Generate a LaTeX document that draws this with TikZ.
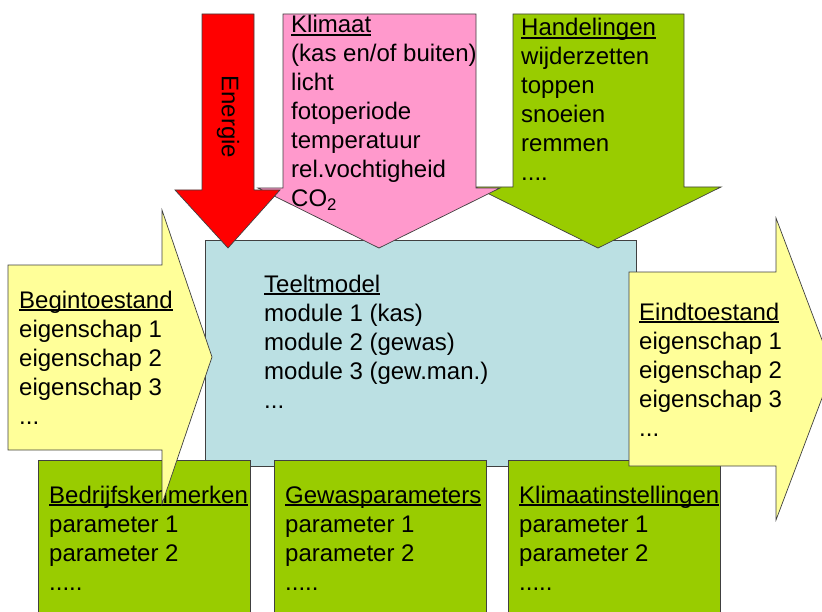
\documentclass[tikz,border=0pt]{standalone}
\usepackage{fontspec}
\setmainfont{Liberation Sans}
\usepackage{xcolor}
\definecolor{energy}{HTML}{FF0000}
\definecolor{climate}{HTML}{FF99CC}
\definecolor{action}{HTML}{99CC00}
\definecolor{state}{HTML}{FFFF99}
\definecolor{model}{HTML}{BBE0E3}
\usepackage{tikz}
\usetikzlibrary{positioning, calc}

% heading with a rule just under the baseline
\newcommand{\headline}[1]{\setbox0\hbox{#1}\rlap{\rule[-3bp]{\wd0}{1.6bp}}\box0}

\begin{document}
\begin{tikzpicture}[x=1bp, y=-1bp,
    panel/.style={draw=black!75, line width=0.7bp},
    txt/.style={anchor=base west, inner sep=0pt, font=\fontsize{24bp}{29bp}\selectfont}]
  \clip (0,0) rectangle (822,612);

  % teeltmodel
  \fill[model, panel] (205,240) rectangle (636,466);
  \node[txt] (model0) at (264,292) {\headline{Teeltmodel}};
  \foreach \t [count=\i] in {module 1 (kas), module 2 (gewas), module 3 (gew.man.)}
    \node[txt] (model\i) at (264,{292+29*\i}) {\t};
  \node[txt] (model4) at (264,408) {.{}.{}.};

  % handelingen
  \fill[action, panel] (513,14) -- (684,14) -- (684,187) -- (721,187) -- (598,248)
    -- (475,187) -- (513,187) -- cycle;
  \node[txt] (hand0) at (521,36) {\headline{Handelingen}};
  \foreach \t [count=\i] in {wijderzetten, toppen, snoeien, remmen}
    \node[txt] (hand\i) at (521,{36+29*\i}) {\t};
  \node[txt] (hand5) at (521,181) {.{}.{}.{}.};

  % klimaat
  \fill[climate, panel] (283,14) -- (476,14) -- (476,188) -- (500,188) -- (379,248)
    -- (258,188) -- (283,188) -- cycle;
  \node[txt] (klim0) at (291,33) {\headline{Klimaat}};
  \foreach \t [count=\i] in {(kas en/of buiten), licht, fotoperiode, temperatuur,
      rel.vochtigheid, CO\textsubscript{2}}
    \node[txt] (klim\i) at (291,{33+29*\i}) {\t};

  % energie
  \fill[energy, panel] (202,14) -- (254,14) -- (254,190) -- (280,190) -- (228,248)
    -- (175,190) -- (202,190) -- cycle;
  \node[rotate=-90, inner sep=0pt, font=\fontsize{24bp}{29bp}\selectfont] (energie) at (228,117) {Energie};

  % parameterblokken
  \foreach \x/\name/\kop in {38/bedr/Bedrijfskenmerken, 274/gew/Gewasparameters, 508/inst/Klimaatinstellingen} {
    \fill[action, panel] (\x,460) rectangle ({\x+212},640);
    \node[txt] (\name0) at ({\x+11},503) {\headline{\kop}};
    \node[txt] (\name1) at ({\x+11},532) {parameter 1};
    \node[txt] (\name2) at ({\x+11},561) {parameter 2};
    \node[txt] (\name3) at ({\x+11},590) {.{}.{}.{}.{}.};
  }

  % begintoestand
  \fill[state, panel] (8,265) -- (162,265) -- (162,210) -- (212,357) -- (162,504)
    -- (162,450) -- (8,450) -- cycle;
  \node[txt] (begin0) at (19,308) {\headline{Begintoestand}};
  \foreach \t [count=\i] in {eigenschap 1, eigenschap 2, eigenschap 3}
    \node[txt] (begin\i) at (19,{308+29*\i}) {\t};
  \node[txt] (begin4) at (19,424) {.{}.{}.};

  % eindtoestand
  \fill[state, panel] (629,272) -- (776,272) -- (776,218) -- (833,369) -- (776,520)
    -- (776,466) -- (629,466) -- cycle;
  \node[txt] (eind0) at (639,320) {\headline{Eindtoestand}};
  \foreach \t [count=\i] in {eigenschap 1, eigenschap 2, eigenschap 3}
    \node[txt] (eind\i) at (639,{320+29*\i}) {\t};
  \node[txt] (eind4) at (639,436) {.{}.{}.};
\end{tikzpicture}
\end{document}
